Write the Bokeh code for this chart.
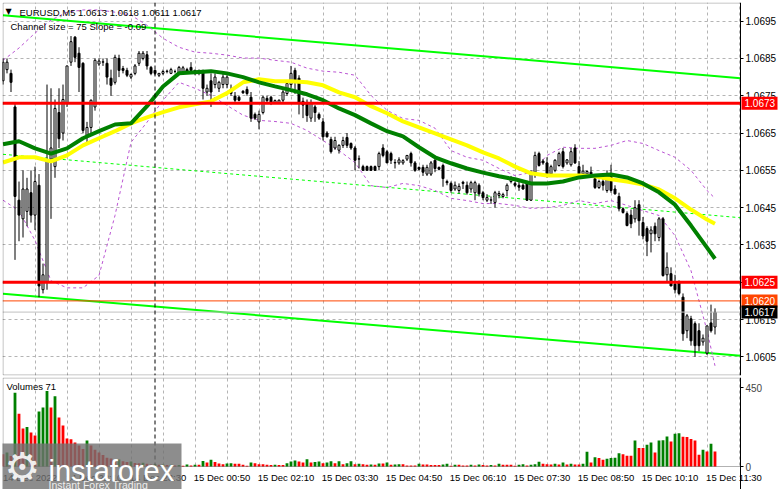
from bokeh.plotting import figure
from bokeh.models import (ColumnDataSource, FixedTicker, Span, Label, Range1d, LinearAxis,
                          BoxAnnotation)
from bokeh.layouts import column
from bokeh.embed import file_html
from bokeh.resources import INLINE

# ---------------- data (EURUSD M5, 14 Dec 20:50 .. 15 Dec 11:40) ----------------
opens = [1.0679, 1.0682, 1.0681, 1.0672, 1.0647, 1.0642, 1.0644, 1.0649, 1.0643, 1.0651,
         1.0623, 1.0625, 1.0658, 1.0656, 1.06705, 1.0665, 1.0673, 1.0684, 1.06907, 1.06864,
         1.06837, 1.06644, 1.06665, 1.0672, 1.06835, 1.0684, 1.06837, 1.06797, 1.06786, 1.0685,
         1.06823, 1.06818, 1.0680, 1.0681, 1.06837, 1.0685, 1.0686, 1.06826, 1.06818, 1.06805,
         1.0681, 1.06815, 1.0681, 1.06815, 1.0681, 1.06815, 1.0682, 1.06826, 1.0681, 1.0681,
         1.06813, 1.0676, 1.0679, 1.0678, 1.0677, 1.0678, 1.0678, 1.06767, 1.06749, 1.06746,
         1.06762, 1.06767, 1.06746, 1.0670, 1.0668, 1.06705, 1.06743, 1.06746, 1.06732, 1.06732,
         1.06738, 1.06756, 1.0678, 1.06818, 1.06797, 1.06735, 1.06732, 1.0669, 1.0672, 1.0670,
         1.0668, 1.0665, 1.06633, 1.0661, 1.06604, 1.06617, 1.06638, 1.06622, 1.0661, 1.0658,
         1.0656, 1.0656, 1.0656, 1.0656, 1.0656, 1.0661, 1.0660, 1.06595, 1.0657, 1.0657,
         1.0657, 1.0658, 1.06595, 1.0657, 1.06558, 1.06558, 1.0654, 1.0654, 1.06577, 1.06558,
         1.06563, 1.0652, 1.06515, 1.0650, 1.06496, 1.06518, 1.0651, 1.0650, 1.0649, 1.0651,
         1.0649, 1.0647, 1.0647, 1.06464, 1.06483, 1.0648, 1.06496, 1.0652, 1.06515, 1.0651,
         1.0651, 1.06517, 1.0647, 1.06545, 1.06595, 1.06575, 1.0657, 1.0654, 1.0655, 1.06563,
         1.0660, 1.0657, 1.06565, 1.0661, 1.0656, 1.0654, 1.0654, 1.06545, 1.06528, 1.06504,
         1.0652, 1.06496, 1.06536, 1.0650, 1.0648, 1.06447, 1.06434, 1.0643, 1.0642, 1.06458,
         1.0641, 1.06394, 1.0638, 1.0640, 1.0637, 1.0642, 1.0627, 1.06273, 1.06245, 1.0625,
         1.0621, 1.0612, 1.06152, 1.06139, 1.0612, 1.0609, 1.0606, 1.06141, 1.0613]
highs = [1.0685, 1.0685, 1.0682, 1.0673, 1.0652, 1.0655, 1.0653, 1.0655, 1.0656, 1.0654,
         1.0630, 1.0678, 1.0677, 1.0674, 1.0677, 1.0678, 1.0683, 1.0691, 1.0691, 1.0688,
         1.0684, 1.0668, 1.0674, 1.0685, 1.0685, 1.0685, 1.0685, 1.0682, 1.0686, 1.0686,
         1.0683, 1.06825, 1.0681, 1.06835, 1.0687, 1.0687, 1.0687, 1.0683, 1.0682, 1.0681,
         1.0682, 1.0682, 1.06825, 1.0682, 1.0683, 1.0683, 1.06825, 1.0684, 1.0682, 1.0682,
         1.0682, 1.0678, 1.0681, 1.0681, 1.0679, 1.0681, 1.06805, 1.0678, 1.0676, 1.0675,
         1.06765, 1.06775, 1.0676, 1.06705, 1.0671, 1.0675, 1.0675, 1.0675, 1.0674, 1.0674,
         1.06765, 1.0679, 1.0683, 1.06825, 1.06805, 1.06745, 1.0674, 1.0674, 1.06725, 1.06705,
         1.0669, 1.06655, 1.0664, 1.0664, 1.0662, 1.0664, 1.0665, 1.06625, 1.06615, 1.0659,
         1.06565, 1.06563, 1.06563, 1.06563, 1.0660, 1.0662, 1.06605, 1.0660, 1.0658, 1.06585,
         1.0658, 1.0659, 1.0660, 1.06575, 1.0656, 1.06565, 1.06565, 1.06575, 1.0658, 1.0656,
         1.06568, 1.06525, 1.0652, 1.0652, 1.06515, 1.06522, 1.0652, 1.06522, 1.06522, 1.06515,
         1.06495, 1.06486, 1.0648, 1.06495, 1.06495, 1.0649, 1.06515, 1.06535, 1.0652, 1.0652,
         1.06515, 1.06522, 1.0655, 1.0660, 1.0660, 1.0658, 1.06585, 1.06565, 1.0658, 1.0660,
         1.0661, 1.0658, 1.0661, 1.0662, 1.06575, 1.06565, 1.0655, 1.0656, 1.06535, 1.06525,
         1.0654, 1.0655, 1.06565, 1.0651, 1.0649, 1.0645, 1.0644, 1.06445, 1.0647, 1.0647,
         1.06425, 1.0640, 1.0640, 1.0641, 1.06425, 1.06425, 1.0633, 1.0629, 1.0627, 1.06255,
         1.0622, 1.06165, 1.0616, 1.06145, 1.0614, 1.0611, 1.06133, 1.0619, 1.0618]
lows = [1.0678, 1.0681, 1.0676, 1.0631, 1.0636, 1.0637, 1.0640, 1.0641, 1.0639, 1.0621,
        1.0622, 1.0623, 1.0642, 1.0653, 1.0661, 1.0663, 1.0672, 1.0683, 1.0684, 1.0676,
        1.0665, 1.0662, 1.0665, 1.0671, 1.0683, 1.0683, 1.0678, 1.0675, 1.0678, 1.0680,
        1.0681, 1.0680, 1.06795, 1.06805, 1.0683, 1.06845, 1.0682, 1.06805, 1.06805, 1.0680,
        1.06805, 1.0681, 1.06808, 1.0681, 1.06808, 1.0681, 1.0681, 1.06815, 1.06805, 1.06805,
        1.0674, 1.0675, 1.0672, 1.0677, 1.0676, 1.0677, 1.0677, 1.0675, 1.0673, 1.06735,
        1.06755, 1.0675, 1.0668, 1.06685, 1.0666, 1.0670, 1.0673, 1.06725, 1.06728, 1.06728,
        1.0673, 1.0675, 1.0677, 1.06755, 1.0670, 1.0669, 1.0668, 1.0668, 1.0668, 1.06685,
        1.0663, 1.06638, 1.06595, 1.06605, 1.06595, 1.0661, 1.0661, 1.06605, 1.0655, 1.06555,
        1.0655, 1.0655, 1.0655, 1.0655, 1.0655, 1.06585, 1.0657, 1.06567, 1.06555, 1.06565,
        1.06565, 1.06575, 1.0656, 1.06546, 1.0655, 1.06535, 1.06535, 1.06535, 1.06545, 1.0655,
        1.06506, 1.0651, 1.0649, 1.06495, 1.06488, 1.0650, 1.06485, 1.0649, 1.0647, 1.0648,
        1.0647, 1.06465, 1.0646, 1.0645, 1.06475, 1.06475, 1.0648, 1.06515, 1.06505, 1.06495,
        1.06498, 1.06468, 1.06468, 1.0653, 1.0656, 1.06565, 1.0653, 1.06535, 1.06545, 1.0656,
        1.06555, 1.06565, 1.0656, 1.06567, 1.06535, 1.06537, 1.06535, 1.0653, 1.0650, 1.0650,
        1.06496, 1.0649, 1.0649, 1.06485, 1.0644, 1.06434, 1.0640, 1.06395, 1.0641, 1.06375,
        1.06365, 1.0632, 1.0633, 1.0636, 1.0636, 1.06265, 1.0625, 1.0624, 1.0622, 1.06215,
        1.06093, 1.0610, 1.0608, 1.0605, 1.06065, 1.0608, 1.06055, 1.06115, 1.0611]
closes = [1.0684, 1.0684, 1.06786, 1.0648, 1.0643, 1.0650, 1.0650, 1.0643, 1.0652, 1.0624,
          1.0627, 1.06577, 1.0661, 1.06716, 1.06635, 1.0674, 1.0683, 1.06895, 1.06853, 1.06826,
          1.06657, 1.06665, 1.06738, 1.06845, 1.06843, 1.06841, 1.0680, 1.06778, 1.06853, 1.06818,
          1.06818, 1.06805, 1.06807, 1.0683, 1.06864, 1.06864, 1.0683, 1.0681, 1.0681, 1.0681,
          1.06815, 1.06816, 1.0682, 1.06815, 1.06826, 1.06825, 1.06815, 1.06818, 1.06818, 1.06818,
          1.0677, 1.0677, 1.0676, 1.0680, 1.06786, 1.0680, 1.0680, 1.06756, 1.06738, 1.06738,
          1.06758, 1.06756, 1.0669, 1.0669, 1.0670, 1.06746, 1.06737, 1.0673, 1.06737, 1.06738,
          1.0676, 1.06783, 1.0681, 1.06786, 1.0673, 1.06725, 1.06697, 1.0673, 1.06705, 1.0669,
          1.0664, 1.0664, 1.0660, 1.0663, 1.06617, 1.0663, 1.06617, 1.0661, 1.06577, 1.06581,
          1.0655, 1.0655, 1.0655, 1.0655, 1.06595, 1.0659, 1.0657, 1.06577, 1.06571, 1.06578,
          1.06576, 1.0659, 1.0657, 1.0655, 1.06553, 1.06545, 1.06558, 1.0657, 1.06555, 1.06553,
          1.06528, 1.06517, 1.06496, 1.0651, 1.06507, 1.06515, 1.0649, 1.06517, 1.06517, 1.06487,
          1.06477, 1.06477, 1.06471, 1.0649, 1.06488, 1.06485, 1.0651, 1.0653, 1.0651, 1.06505,
          1.0650, 1.0647, 1.0654, 1.0659, 1.06563, 1.0657, 1.06536, 1.0656, 1.06577, 1.06595,
          1.0656, 1.06578, 1.0660, 1.0657, 1.0654, 1.06548, 1.06547, 1.06536, 1.06504, 1.0652,
          1.0651, 1.0654, 1.06496, 1.06487, 1.06447, 1.06437, 1.06402, 1.06407, 1.0645, 1.06415,
          1.06374, 1.0636, 1.0639, 1.0638, 1.0642, 1.06268, 1.0629, 1.0624, 1.0623, 1.0622,
          1.06112, 1.0616, 1.06093, 1.0608, 1.0608, 1.0610, 1.06133, 1.0612, 1.0617]
volumes = [70, 80, 60, 420, 300, 216, 225, 194, 177, 313,
           336, 430, 336, 400, 279, 234, 160, 155, 137, 120,
           100, 148, 120, 95, 80, 65, 50, 45, 35, 40,
           30, 25, 28, 20, 18, 22, 15, 12, 14, 10,
           12, 8, 10, 6, 8, 4, 11, 6, 10, 10,
           32, 23, 38, 25, 17, 13, 17, 19, 15, 15,
           10, 4, 23, 19, 13, 13, 10, 8, 10, 8,
           8, 19, 29, 34, 29, 23, 42, 23, 25, 29,
           19, 23, 30, 19, 30, 13, 19, 30, 13, 15,
           13, 10, 11, 10, 17, 17, 23, 10, 11, 13,
           13, 6, 6, 6, 15, 11, 11, 8, 8, 8,
           11, 15, 4, 10, 10, 6, 6, 10, 6, 11,
           8, 6, 8, 6, 15, 10, 10, 10, 4, 10,
           13, 6, 10, 13, 27, 15, 13, 11, 15, 11,
           23, 11, 15, 11, 11, 15, 84, 23, 53, 49,
           38, 44, 48, 50, 76, 70, 61, 61, 148, 105,
           105, 124, 137, 80, 148, 150, 171, 143, 186, 190,
           170, 168, 156, 148, 67, 95, 86, 129, 86]

# indicator readings (bar index -> price)
ind_k = [0, 4, 8, 12, 16, 20, 24, 28, 32, 36, 40, 44, 48, 52, 56, 60, 64, 68, 72, 76, 80, 84, 88,
         92, 96, 100, 104, 108, 112, 116, 120, 124, 128, 132, 136, 140, 144, 148, 152, 156, 160,
         164, 168, 172, 176, 178]
ma_green = [1.06620, 1.06628, 1.06609, 1.06595, 1.06609, 1.06636, 1.06655, 1.06673, 1.06676, 1.06722,
            1.06775, 1.06810, 1.06813, 1.06816, 1.06810, 1.06800, 1.06786, 1.06775, 1.06765, 1.06754,
            1.06738, 1.06716, 1.06698, 1.06676, 1.06655, 1.06641, 1.06612, 1.06585, 1.06569, 1.06555,
            1.06544, 1.06534, 1.06526, 1.06515, 1.06515, 1.06520, 1.06531, 1.06536, 1.06539, 1.06531,
            1.06515, 1.06491, 1.06458, 1.06402, 1.06343, 1.06313]
ma_yellow = [1.06571, 1.06585, 1.06585, 1.06574, 1.06590, 1.06617, 1.06636, 1.06655, 1.06676, 1.06692,
             1.06706, 1.06719, 1.06727, 1.06735, 1.06757, 1.06786, 1.06794, 1.06789, 1.06789, 1.06786,
             1.06778, 1.06759, 1.06746, 1.06722, 1.06703, 1.06681, 1.06665, 1.06649, 1.06633, 1.06617,
             1.06598, 1.06582, 1.06560, 1.06542, 1.06536, 1.06536, 1.06536, 1.06534, 1.06526, 1.06520,
             1.06512, 1.06499, 1.06475, 1.06445, 1.06418, 1.06407]
bb_upper = [1.06845, 1.06878, 1.06918, 1.06953, 1.06974, 1.06980, 1.06980, 1.06974, 1.06966, 1.06939,
            1.06904, 1.06880, 1.06867, 1.06864, 1.06859, 1.06851, 1.06851, 1.06845, 1.06840, 1.06824,
            1.06816, 1.06813, 1.06805, 1.06751, 1.06711, 1.06689, 1.06684, 1.06663, 1.06603, 1.06585,
            1.06577, 1.06555, 1.06536, 1.06544, 1.06590, 1.06612, 1.06609, 1.06609, 1.06617, 1.06630,
            1.06622, 1.06603, 1.06585, 1.06550, 1.06496, 1.06475]
bb_lower = [1.06470, 1.06442, 1.06362, 1.06254, 1.06235, 1.06235, 1.06268, 1.06429, 1.06625, 1.06679,
            1.06738, 1.06786, 1.06770, 1.06751, 1.06724, 1.06698, 1.06684, 1.06681, 1.06676, 1.06657,
            1.06630, 1.06603, 1.06571, 1.06509, 1.06504, 1.06515, 1.06509, 1.06496, 1.06475, 1.06469,
            1.06461, 1.06461, 1.06456, 1.06448, 1.06450, 1.06456, 1.06469, 1.06461, 1.06469, 1.06456,
            1.06442, 1.06429, 1.06375, 1.06281, 1.06120, 1.06026]

# regression channel (Channel size = 75, Slope = -0.09)
chan_k = [0, 184.375]
chan_upper = [1.06966, 1.06797]
chan_mid = [1.06593, 1.06423]
chan_lower = [1.06219, 1.06053]

level_red = [1.0673, 1.0625]
ask_price = 1.0620
bid_price = 1.0617
day_sep_k = 38

tag_values = [1.0673, 1.0625, 1.0620, 1.0617]
tag_texts = ["1.0673", "1.0625", "1.0620", "1.0617"]
tag_colors = ["#ff0000", "#ff0000", "#ff4500", "#000000"]

y_ticks = [1.0605, 1.0615, 1.0625, 1.0635, 1.0645, 1.0655, 1.0665, 1.0675, 1.0685, 1.0695]
y_tick_labels = ["1.0605", "1.0615", "1.0625", "1.0635", "1.0645", "1.0655", "1.0665", "1.0675",
                 "1.0685", "1.0695"]
time_k = [0, 16, 32, 48, 64, 80, 96, 112, 128, 144, 160, 176]
time_labels = ["14 Dec 2022", "14 Dec 22:10", "14 Dec 23:30", "15 Dec 00:50", "15 Dec 02:10",
               "15 Dec 03:30", "15 Dec 04:50", "15 Dec 06:10", "15 Dec 07:30", "15 Dec 08:50",
               "15 Dec 10:10", "15 Dec 11:30"]
vol_ticks = [0, 450]
vol_title = "Volumes 71"

# ---------------- geometry ----------------
FONT = "Liberation Sans"
W = 781
PX = 4.0                       # pixels per bar
X0 = -0.125                    # left edge of the chart (x = 2 px)
XE = 184.375                   # right edge of the chart area (x = 740 px)
X1 = X0 + (W - 2) / PX         # right edge of the whole frame (x = 781 px)
Y0, Y1 = 1.0600, 1.0700
FRAME_H = 373
PPX = (Y1 - Y0) / FRAME_H      # price per pixel
grid_k = list(range(8, 185, 8))

# ---------------- main price panel ----------------
p = figure(width=W, height=377, x_range=Range1d(X0, X1), y_range=Range1d(Y0, Y1),
           x_axis_location=None, y_axis_location=None, toolbar_location=None,
           output_backend="svg", min_border_left=2, min_border_right=0,
           min_border_top=2, min_border_bottom=2)
p.background_fill_color = "white"
p.border_fill_color = "white"
p.outline_line_color = None
p.xgrid.ticker = FixedTicker(ticks=grid_k)
p.ygrid.ticker = FixedTicker(ticks=y_ticks)
for g in (p.xgrid, p.ygrid):
    g.grid_line_color = "#b4b4b4"
    g.grid_line_dash = "3 3"
    g.grid_line_width = 1

# price scale drawn at the right edge of the chart area
ya = LinearAxis(fixed_location=XE, ticker=FixedTicker(ticks=y_ticks))
ya.major_label_overrides = dict(zip(y_ticks, y_tick_labels))
ya.major_label_text_font = FONT
ya.major_label_text_font_size = "10px"
ya.major_label_text_color = "black"
ya.major_tick_out = 3
ya.major_tick_in = 0
ya.minor_tick_line_color = None
ya.major_label_standoff = 2
ya.axis_line_color = "black"
p.add_layout(ya, "right")

# blank strip behind the price scale
p.quad(left=XE, right=X1 + 1, bottom=Y0 - 0.001, top=Y1 + 0.001, fill_color="white",
       line_color=None)

# regression channel
p.line(chan_k, chan_upper, line_color="#00ff00", line_width=2)
p.line(chan_k, chan_lower, line_color="#00ff00", line_width=2)
p.line(chan_k, chan_mid, line_color="#00ff00", line_width=1, line_dash="3 3")
# bollinger bands
p.line(ind_k, bb_upper, line_color="#ba55d3", line_width=1, line_dash="3 3")
p.line(ind_k, bb_lower, line_color="#ba55d3", line_width=1, line_dash="3 3")

# candles
n = len(opens)
src = ColumnDataSource(dict(
    x=list(range(n)), o=opens, h=highs, l=lows, c=closes,
    top=[max(a, b) for a, b in zip(opens, closes)],
    bot=[min(a, b) for a, b in zip(opens, closes)],
    fill=["white" if c >= o else "black" for o, c in zip(opens, closes)],
))
p.segment(x0="x", y0="l", x1="x", y1="h", source=src, line_color="black", line_width=1)
p.vbar(x="x", width=0.5, top="top", bottom="bot", source=src, fill_color="fill",
       line_color="black", line_width=1)

# moving averages
p.line(ind_k, ma_yellow, line_color="#ffff00", line_width=4)
p.line(ind_k, ma_green, line_color="#008000", line_width=4)

# horizontal levels (end at the price scale)
p.segment(x0=X0, x1=XE, y0=level_red, y1=level_red, line_color="#ff0000", line_width=3)
p.segment(x0=[X0], x1=[XE], y0=[ask_price], y1=[ask_price], line_color="#ff4500", line_width=1)
p.segment(x0=[X0], x1=[XE], y0=[bid_price], y1=[bid_price], line_color="#c0c0c0", line_width=1)
p.add_layout(Span(location=day_sep_k, dimension="height", line_color="black", line_width=1,
                  line_dash="4 3"))

# chart border
p.add_layout(BoxAnnotation(left=X0 + 0.5 / PX, right=XE, bottom=Y0 + 0.5 * PPX,
                           top=Y1 - 0.5 * PPX, fill_alpha=0, line_color="black", line_width=1))

# price tags over the scale
for val, txt, col in zip(tag_values, tag_texts, tag_colors):
    p.add_layout(BoxAnnotation(left=XE + 1 / PX, right=XE + 37 / PX, bottom=val - 6.5 * PPX,
                               top=val + 6.5 * PPX, fill_color=col, fill_alpha=1,
                               line_color=None))
    p.add_layout(Label(x=XE, y=val, x_offset=4, text=txt, text_color="white", text_font=FONT,
                       text_font_size="10px", text_baseline="middle", text_align="left"))

# header texts
p.add_layout(Label(x=X0, y=Y1, x_offset=3, y_offset=-4, text="▼", text_font="DejaVu Sans",
                   text_font_size="8px", text_baseline="top", text_color="black"))
p.add_layout(Label(x=X0, y=Y1, x_offset=17, y_offset=-4,
                   text="EURUSD,M5  1.0613 1.0618 1.0611 1.0617", text_font=FONT,
                   text_font_size="9.5px", text_baseline="top", text_color="black"))
p.add_layout(Label(x=X0, y=Y1, x_offset=8, y_offset=-18,
                   text="Channel size = 75 Slope = -0.09", text_font=FONT,
                   text_font_size="9.5px", text_baseline="top", text_color="black"))

# ---------------- volume panel (frame covers panel + time scale) ----------------
VPX = 5.697                    # volume units per pixel
VMAX = 89 * VPX                # top of the panel (y = 377 px)
VMIN = -23 * VPX               # bottom of the page (y = 489 px)
pv = figure(width=W, height=112, x_range=p.x_range, y_range=Range1d(VMIN, VMAX),
            x_axis_location=None, y_axis_location=None, toolbar_location=None,
            output_backend="svg", min_border_left=2, min_border_right=0,
            min_border_top=0, min_border_bottom=0)
pv.background_fill_color = "white"
pv.border_fill_color = "white"
pv.outline_line_color = None
pv.xgrid.ticker = FixedTicker(ticks=grid_k)
pv.xgrid.grid_line_color = "#b4b4b4"
pv.xgrid.grid_line_dash = "3 3"
pv.ygrid.grid_line_color = None

# blank areas: strip behind the volume scale and the band of the time scale
pv.quad(left=XE, right=X1 + 1, bottom=VMIN - 10, top=VMAX + 10, fill_color="white",
        line_color=None)
pv.quad(left=X0 - 1, right=XE, bottom=VMIN - 10, top=0, fill_color="white", line_color=None)

vcol = ["#008000" if i > 0 and volumes[i] > volumes[i - 1] else "#ff0000" for i in range(n)]
vsrc = ColumnDataSource(dict(x=list(range(n)), v=volumes, col=vcol))
pv.vbar(x="x", width=0.7, top="v", bottom=0, source=vsrc, fill_color="col", line_color=None)
pv.segment(x0=[day_sep_k], x1=[day_sep_k], y0=[0], y1=[VMAX], line_color="black", line_width=1,
           line_dash="4 3")

# time scale at the bottom of the panel
label_pos = [k + 6.75 for k in time_k]
xa = LinearAxis(fixed_location=0, ticker=FixedTicker(ticks=label_pos))
xa.major_label_overrides = dict(zip(label_pos, time_labels))
xa.major_tick_line_color = None
xa.minor_tick_line_color = None
xa.axis_line_color = None
xa.major_tick_out = 0
xa.major_label_standoff = 5
xa.major_label_text_font = FONT
xa.major_label_text_font_size = "9.5px"
xa.major_label_text_color = "black"
pv.add_layout(xa, "below")

# volume scale
va = LinearAxis(fixed_location=XE, ticker=FixedTicker(ticks=vol_ticks))
va.major_label_overrides = {0: "0", 450: "450"}
va.major_label_text_font = FONT
va.major_label_text_font_size = "10px"
va.major_tick_out = 3
va.major_tick_in = 0
va.minor_tick_line_color = None
va.major_label_standoff = 2
va.axis_line_color = "black"
pv.add_layout(va, "right")

# panel border
pv.add_layout(BoxAnnotation(left=X0 + 0.5 / PX, right=XE, bottom=0, top=VMAX - 0.5 * VPX,
                            fill_alpha=0, line_color="black", line_width=1))

pv.add_layout(Label(x=X0, y=VMAX, x_offset=4, y_offset=-3, text=vol_title, text_font=FONT,
                    text_font_size="9.5px", text_baseline="top", text_color="black"))

# instaforex watermark (bottom-left corner)
pv.add_layout(BoxAnnotation(left=X0 - 1, right=X0 + 179 / PX, bottom=VMIN - 10, top=23 * VPX,
                            fill_color="#707070", fill_alpha=0.8, line_color=None))
pv.add_layout(Label(x=X0 + 20 / PX, y=0, text="⚙", text_font="DejaVu Sans",
                    text_font_size="40px", text_color="white", text_alpha=0.9,
                    text_align="center", text_baseline="middle"))
pv.add_layout(Label(x=X0 + 46 / PX, y=-4 * VPX, text="instaforex", text_font=FONT,
                    text_font_size="29px", text_color="white", text_align="left",
                    text_baseline="alphabetic"))
pv.add_layout(Label(x=X0 + 46 / PX, y=-18 * VPX, text="Instant Forex Trading", text_font=FONT,
                    text_font_size="10.5px", text_color="#eeeeee", text_align="left",
                    text_baseline="alphabetic"))

layout = column(p, pv, spacing=0)
open("out.html", "w").write(file_html(layout, INLINE))
